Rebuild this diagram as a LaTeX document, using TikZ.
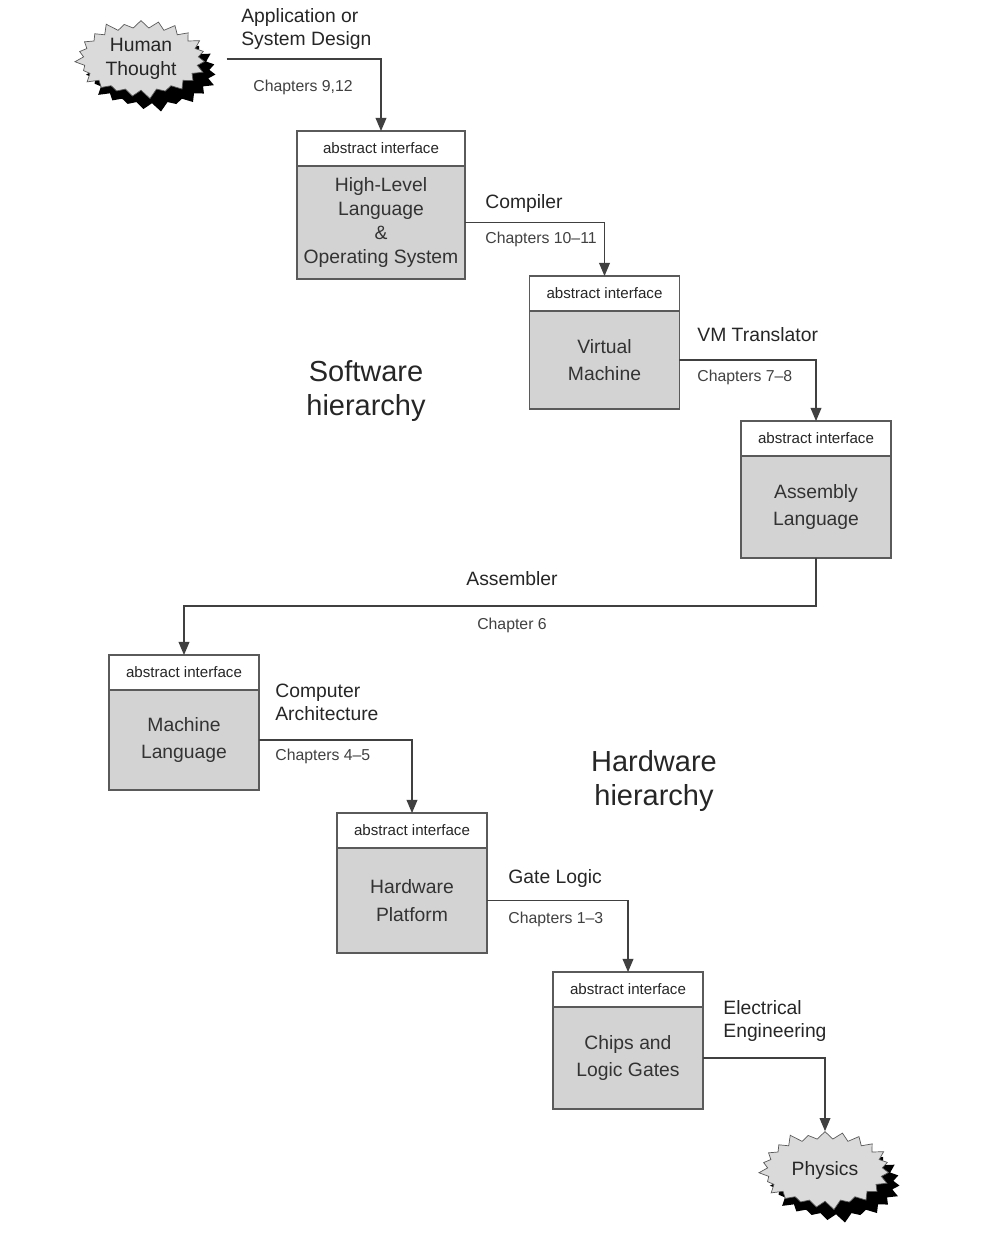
\documentclass[tikz,border=0pt]{standalone}
\usepackage{fontspec}
\setmainfont{Liberation Sans}
\usepackage{xcolor}
\usepackage{tikz}
\usetikzlibrary{arrows}
\usetikzlibrary{positioning,shapes.symbols,shadows}
\definecolor{boxgray}{HTML}{D3D3D3}
\definecolor{burstgray}{HTML}{DADADA}
\definecolor{edgegray}{HTML}{5A5A5A}
\tikzset{
 ifhead/.style={draw=edgegray, line width=0.8pt, fill=white, minimum width=3cm, minimum height=0.7cm, inner sep=0pt, outer sep=0pt, font=\fontsize{8.6}{10}\selectfont, text=black!85},
 layerbox/.style={draw=edgegray, line width=0.8pt, fill=boxgray, minimum width=3cm, minimum height=2.04cm, inner sep=0pt, outer sep=0pt, align=center, font=\fontsize{11}{15.5}\selectfont, text=black!80},
 burst/.style={starburst, starburst points=23, starburst point height=0.2cm, draw=edgegray, fill=burstgray, minimum width=2.7cm, minimum height=1.65cm, inner sep=0pt, align=center, font=\fontsize{11}{13.5}\selectfont, text=black!85, drop shadow={fill=black, opacity=1, shadow xshift=0.22cm, shadow yshift=-0.26cm}},
 conn/.style={draw=black!75, line width=0.7pt, ->, >=triangle 45},
 toollabel/.style={anchor=north west, inner sep=0pt, align=left, font=\fontsize{11}{13}\selectfont, text=black!85},
 chap/.style={anchor=north west, inner sep=0pt, font=\fontsize{9}{11}\selectfont, text=black!75},
 hier/.style={align=center, font=\fontsize{16.5}{19.5}\selectfont, text=black!85}
}
\begin{document}
\begin{tikzpicture}[x=0.02cm, y=-0.02cm]
\useasboundingbox (0,0) rectangle (984,1246);
\node[burst] (thought) at (141,59) {Human\\Thought};
\node[ifhead, minimum width=3.36cm] (hllhead) at (381,148.5) {abstract interface};
\node[layerbox, minimum width=3.36cm, minimum height=2.26cm, font=\fontsize{11}{13.6}\selectfont, below=0pt of hllhead] (hll) {High-Level\\Language\\\&\\Operating System};
\node[ifhead] (vmhead) at (604.5,293.5) {abstract interface};
\node[layerbox, minimum height=1.96cm, below=0pt of vmhead] (vm) {Virtual\\Machine};
\node[ifhead] (asmhead) at (816,438.5) {abstract interface};
\node[layerbox, below=0pt of asmhead] (asm) {Assembly\\Language};
\node[ifhead] (mlhead) at (184,672.5) {abstract interface};
\node[layerbox, minimum height=2cm, below=0pt of mlhead] (ml) {Machine\\Language};
\node[ifhead] (hwhead) at (412,830.5) {abstract interface};
\node[layerbox, minimum height=2.1cm, below=0pt of hwhead] (hw) {Hardware\\Platform};
\node[ifhead] (chipshead) at (628,989.5) {abstract interface};
\node[layerbox, below=0pt of chipshead] (chips) {Chips and\\Logic Gates};
\node[burst] (physics) at (825,1170) {Physics};

\draw[conn] ([xshift=0.5cm]thought.east) -| (hllhead.north);
\draw[conn] (hll.east) -| (vmhead.north);
\draw[conn] (vm.east) -| (asmhead.north);
\draw[conn] (asm.south) -- ++(0,48) -| (mlhead.north);
\draw[conn] (ml.east) -| (hwhead.north);
\draw[conn] (hw.east) -| (chipshead.north);
\draw[conn] (chips.east) -| (physics.north);

\node[toollabel] (appdesign) at (241,8) {Application or\\System Design};
\node[chap] (chap912) at (253,80) {Chapters 9,12};
\node[toollabel] (compiler) at (485,194) {Compiler};
\node[chap] (chap1011) at (485,232) {Chapters 10--11};
\node[toollabel] (vmtrans) at (697,327) {VM Translator};
\node[chap] (chap78) at (697,370) {Chapters 7--8};
\node[toollabel, anchor=north] (assembler) at (512,571) {Assembler};
\node[chap, anchor=north] (chap6) at (512,618) {Chapter 6};
\node[toollabel] (comparch) at (275,684) {Computer\\Architecture};
\node[chap] (chap45) at (275,749) {Chapters 4--5};
\node[toollabel] (gatelogic) at (508,869) {Gate Logic};
\node[chap] (chap13) at (508,912) {Chapters 1--3};
\node[toollabel] (eleceng) at (723,1000) {Electrical\\Engineering};

\node[hier] (software) at (366,391) {Software\\hierarchy};
\node[hier] (hardware) at (654,781) {Hardware\\hierarchy};
\end{tikzpicture}
\end{document}
